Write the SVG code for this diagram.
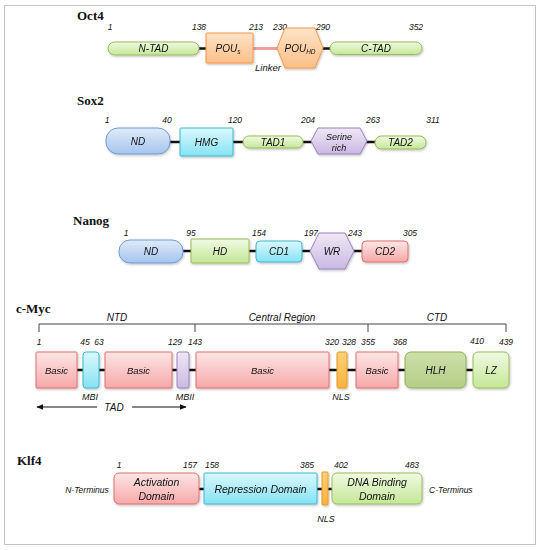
<svg xmlns="http://www.w3.org/2000/svg" width="541" height="550" viewBox="0 0 541 550">
<defs>
<linearGradient id="gGreen" x1="0" y1="0" x2="0" y2="1"><stop offset="0" stop-color="#f0fae2"/><stop offset="1" stop-color="#c4e797"/></linearGradient>
<linearGradient id="gOrange" x1="0" y1="0" x2="0" y2="1"><stop offset="0" stop-color="#fee3c8"/><stop offset="1" stop-color="#fbbf88"/></linearGradient>
<linearGradient id="gBlue" x1="0" y1="0" x2="0" y2="1"><stop offset="0" stop-color="#e0ebf9"/><stop offset="1" stop-color="#a5c4ee"/></linearGradient>
<linearGradient id="gCyan" x1="0" y1="0" x2="0" y2="1"><stop offset="0" stop-color="#dbf8fd"/><stop offset="1" stop-color="#86e2f3"/></linearGradient>
<linearGradient id="gPurple" x1="0" y1="0" x2="0" y2="1"><stop offset="0" stop-color="#efe8f6"/><stop offset="1" stop-color="#cbb9e2"/></linearGradient>
<linearGradient id="gRed" x1="0" y1="0" x2="0" y2="1"><stop offset="0" stop-color="#fde6e6"/><stop offset="1" stop-color="#f6a8a8"/></linearGradient>
<linearGradient id="gHLH" x1="0" y1="0" x2="0" y2="1"><stop offset="0" stop-color="#cde0ab"/><stop offset="1" stop-color="#b4cd86"/></linearGradient>
<linearGradient id="gNLS" x1="0" y1="0" x2="0" y2="1"><stop offset="0" stop-color="#fdd07a"/><stop offset="1" stop-color="#f9b23c"/></linearGradient>
<filter id="sh" x="-10%" y="-10%" width="130%" height="140%"><feDropShadow dx="0.8" dy="1.2" stdDeviation="0.8" flood-color="#000" flood-opacity="0.25"/></filter>
<marker id="arr" viewBox="0 0 10 10" refX="9" refY="5" markerWidth="7" markerHeight="7" orient="auto-start-reverse"><path d="M0,1 L10,5 L0,9 z" fill="#111"/></marker>
</defs>
<style>
text{font-family:"Liberation Sans",Arial,sans-serif;font-style:italic;fill:#111}
.title{font-family:"Liberation Serif","Times New Roman",serif;font-weight:bold;font-style:normal;font-size:13px}
.num{font-size:8.5px;text-anchor:middle}
.lbl{font-size:10px;text-anchor:middle}
.sm{font-size:9px;text-anchor:middle}
.big{font-size:10.5px;text-anchor:middle}
.green{fill:url(#gGreen);stroke:#9bbb59;stroke-width:1}
.orange{fill:url(#gOrange);stroke:#f79646;stroke-width:1}
.blue{fill:url(#gBlue);stroke:#6f9bd6;stroke-width:1}
.cyan{fill:url(#gCyan);stroke:#3fb8d0;stroke-width:1}
.purple{fill:url(#gPurple);stroke:#9a82c0;stroke-width:1}
.red{fill:url(#gRed);stroke:#e06f6f;stroke-width:1}
.hlh{fill:url(#gHLH);stroke:#8fae58;stroke-width:1}
.nls{fill:url(#gNLS);stroke:#e69a28;stroke-width:1}
.node{filter:url(#sh)}
.conn line{stroke:#111;stroke-width:2.5}
.brk{stroke:#444;stroke-width:1;fill:none}
</style>
<rect x="4.5" y="5.5" width="531" height="539" fill="#fff" stroke="#888" stroke-width="1" stroke-dasharray="1,1"/>

<!-- connectors -->
<g id="connectors" class="conn">
<line x1="199" y1="48.5" x2="207" y2="48.5"/>
<line x1="253" y1="48.5" x2="280" y2="48.5" style="stroke:#ee9e9e;stroke-width:3"/>
<line x1="322" y1="48.5" x2="331" y2="48.5"/>
<line x1="169" y1="142" x2="181" y2="142"/>
<line x1="233" y1="142" x2="244" y2="142"/>
<line x1="303" y1="142" x2="312" y2="142"/>
<line x1="366" y1="142" x2="376" y2="142"/>
<line x1="183" y1="251" x2="192" y2="251"/>
<line x1="249" y1="251" x2="257" y2="251"/>
<line x1="302" y1="251" x2="310" y2="251"/>
<line x1="354" y1="251" x2="363" y2="251"/>
<line x1="77" y1="370" x2="84" y2="370"/>
<line x1="99" y1="370" x2="106" y2="370"/>
<line x1="172" y1="370" x2="178" y2="370"/>
<line x1="189" y1="370" x2="197" y2="370"/>
<line x1="329" y1="370" x2="338" y2="370"/>
<line x1="347" y1="370" x2="357" y2="370"/>
<line x1="398" y1="370" x2="406" y2="370"/>
<line x1="466" y1="370" x2="474" y2="370"/>
<line x1="199" y1="489" x2="205" y2="489"/>
<line x1="317" y1="489" x2="323" y2="489"/>
<line x1="328" y1="489" x2="333" y2="489"/>
</g>

<!-- Oct4 -->
<g id="oct4">
<text class="title" x="77" y="20">Oct4</text>
<text class="num" x="110" y="30">1</text>
<text class="num" x="199" y="30">138</text>
<text class="num" x="256" y="30">213</text>
<text class="num" x="280" y="30">230</text>
<text class="num" x="323" y="30">290</text>
<text class="num" x="416" y="30">352</text>
<text class="sm" x="255" y="71" style="text-anchor:start;font-size:9.5px">Linker</text>
</g>
<g id="oct4-ntad" class="node"><rect class="green" x="108" y="42" width="91" height="13" rx="6.5"/><text class="lbl" x="153.5" y="52">N-TAD</text></g>
<g id="oct4-pous" class="node"><rect class="orange" x="206" y="33" width="47" height="30" rx="1"/><text class="lbl" x="228" y="52">POU<tspan font-size="6.5" dy="2">s</tspan></text></g>
<g id="oct4-pouhd" class="node"><polygon class="orange" points="285,28 315,28 323,48 315,68 285,68 277,48"/><text class="lbl" x="300" y="52">POU<tspan font-size="6.5" dy="2">HD</tspan></text></g>
<g id="oct4-ctad" class="node"><rect class="green" x="330" y="42" width="92" height="12.5" rx="6.25"/><text class="lbl" x="376" y="52">C-TAD</text></g>

<!-- Sox2 -->
<g id="sox2">
<text class="title" x="77" y="105">Sox2</text>
<text class="num" x="107" y="123">1</text>
<text class="num" x="167" y="123">40</text>
<text class="num" x="235" y="123">120</text>
<text class="num" x="308" y="123">204</text>
<text class="num" x="373" y="123">263</text>
<text class="num" x="433" y="123">311</text>
</g>
<g id="sox2-nd" class="node"><rect class="blue" x="106" y="128" width="64" height="26" rx="12"/><text class="lbl" x="138" y="145">ND</text></g>
<g id="sox2-hmg" class="node"><rect class="cyan" x="180" y="128" width="53" height="28" rx="1"/><text class="lbl" x="206.5" y="145.5">HMG</text></g>
<g id="sox2-tad1" class="node"><rect class="green" x="243" y="136" width="60" height="12" rx="6"/><text class="lbl" x="273" y="145.5">TAD1</text></g>
<g id="sox2-ser" class="node"><polygon class="purple" points="318,128 360,128 367,141 360,154 318,154 311,141"/><text class="sm" x="339" y="140">Serine</text><text class="sm" x="339" y="150.5">rich</text></g>
<g id="sox2-tad2" class="node"><rect class="green" x="375" y="136" width="51" height="13" rx="6.5"/><text class="lbl" x="400.5" y="146">TAD2</text></g>

<!-- Nanog -->
<g id="nanog">
<text class="title" x="73" y="225">Nanog</text>
<text class="num" x="126" y="236">1</text>
<text class="num" x="191" y="236">95</text>
<text class="num" x="259" y="236">154</text>
<text class="num" x="311" y="236">197</text>
<text class="num" x="355" y="236">243</text>
<text class="num" x="410" y="236">305</text>
</g>
<g id="nanog-nd" class="node"><rect class="blue" x="119" y="240" width="64" height="23" rx="11"/><text class="lbl" x="151" y="255">ND</text></g>
<g id="nanog-hd" class="node"><rect class="green" x="191" y="239" width="58" height="24" rx="1"/><text class="lbl" x="220" y="255">HD</text></g>
<g id="nanog-cd1" class="node"><rect class="cyan" x="256" y="241" width="46" height="21" rx="4"/><text class="lbl" x="279" y="255">CD1</text></g>
<g id="nanog-wr" class="node"><polygon class="purple" points="319,233 345,233 354,251 345,269 319,269 310,251"/><text class="lbl" x="332" y="255">WR</text></g>
<g id="nanog-cd2" class="node"><rect class="red" x="362" y="241" width="46" height="21" rx="4"/><text class="lbl" x="385" y="255">CD2</text></g>

<!-- c-Myc -->
<g id="cmyc">
<text class="title" x="16" y="313">c-Myc</text>
<path class="brk" d="M39,332 V324 H506 V332 M195,324 V332 M368,324 V332"/>
<text class="lbl" x="117" y="321">NTD</text>
<text class="lbl" x="282" y="321">Central Region</text>
<text class="lbl" x="437" y="321">CTD</text>
<text class="num" x="39" y="345">1</text>
<text class="num" x="85" y="345">45</text>
<text class="num" x="99" y="345">63</text>
<text class="num" x="175" y="345">129</text>
<text class="num" x="195" y="345">143</text>
<text class="num" x="332" y="345">320</text>
<text class="num" x="349" y="345">328</text>
<text class="num" x="368" y="345">355</text>
<text class="num" x="400" y="345">368</text>
<text class="num" x="477" y="344">410</text>
<text class="num" x="506" y="345">439</text>
<text class="sm" x="90" y="400">MBI</text>
<text class="sm" x="185" y="400">MBII</text>
<text class="sm" x="341" y="400">NLS</text>
</g>
<g id="cmyc-tad">
<line x1="97" y1="407" x2="37" y2="407" stroke="#111" stroke-width="1" marker-end="url(#arr)"/>
<line x1="132" y1="407" x2="186" y2="407" stroke="#111" stroke-width="1" marker-end="url(#arr)"/>
<text class="lbl" x="114" y="411">TAD</text>
</g>
<g id="cmyc-basic1" class="node"><rect class="red" x="36" y="352" width="41" height="36" rx="1"/><text class="sm" x="56.5" y="373.5" style="font-size:9.5px">Basic</text></g>
<g id="cmyc-mbi" class="node"><rect class="cyan" x="83" y="352" width="16" height="36" rx="3"/></g>
<g id="cmyc-basic2" class="node"><rect class="red" x="105" y="352" width="67" height="36" rx="1"/><text class="sm" x="138.5" y="373.5" style="font-size:9.5px">Basic</text></g>
<g id="cmyc-mbii" class="node"><rect class="purple" x="177" y="352" width="12" height="36" rx="2"/></g>
<g id="cmyc-basic3" class="node"><rect class="red" x="196" y="352" width="133" height="36" rx="1"/><text class="sm" x="262.5" y="373.5" style="font-size:9.5px">Basic</text></g>
<g id="cmyc-nls" class="node"><rect class="nls" x="337" y="352" width="10" height="36" rx="1.5"/></g>
<g id="cmyc-basic4" class="node"><rect class="red" x="356" y="352" width="42" height="36" rx="1"/><text class="sm" x="377" y="373.5" style="font-size:9.5px">Basic</text></g>
<g id="cmyc-hlh" class="node"><rect class="hlh" x="405" y="352" width="61" height="36" rx="6"/><text class="lbl" x="435.5" y="373.5">HLH</text></g>
<g id="cmyc-lz" class="node"><rect class="green" x="473" y="352" width="36" height="36" rx="5"/><text class="lbl" x="491" y="373.5">LZ</text></g>

<!-- Klf4 -->
<g id="klf4">
<text class="title" x="17" y="465">Klf4</text>
<text class="num" x="119" y="468">1</text>
<text class="num" x="190" y="468">157</text>
<text class="num" x="212" y="468">158</text>
<text class="num" x="307" y="468">385</text>
<text class="num" x="341" y="468">402</text>
<text class="num" x="412" y="468">483</text>
<text class="num" x="87" y="493">N-Terminus</text>
<text class="num" x="429" y="493" style="text-anchor:start">C-Terminus</text>
<text class="sm" x="326" y="522">NLS</text>
</g>
<g id="klf4-act" class="node"><rect class="red" x="114" y="473" width="85" height="31" rx="5"/><text class="big" x="156.5" y="486">Activation</text><text class="big" x="156.5" y="500">Domain</text></g>
<g id="klf4-rep" class="node"><rect class="cyan" x="204" y="473" width="113" height="31" rx="1"/><text class="big" x="260.5" y="493">Repression Domain</text></g>
<g id="klf4-nls" class="node"><rect class="nls" x="322" y="472" width="6" height="33" rx="1"/></g>
<g id="klf4-dna" class="node"><rect class="green" x="332" y="473" width="90" height="31" rx="5"/><text class="big" x="377" y="486">DNA Binding</text><text class="big" x="377" y="500">Domain</text></g>
</svg>
